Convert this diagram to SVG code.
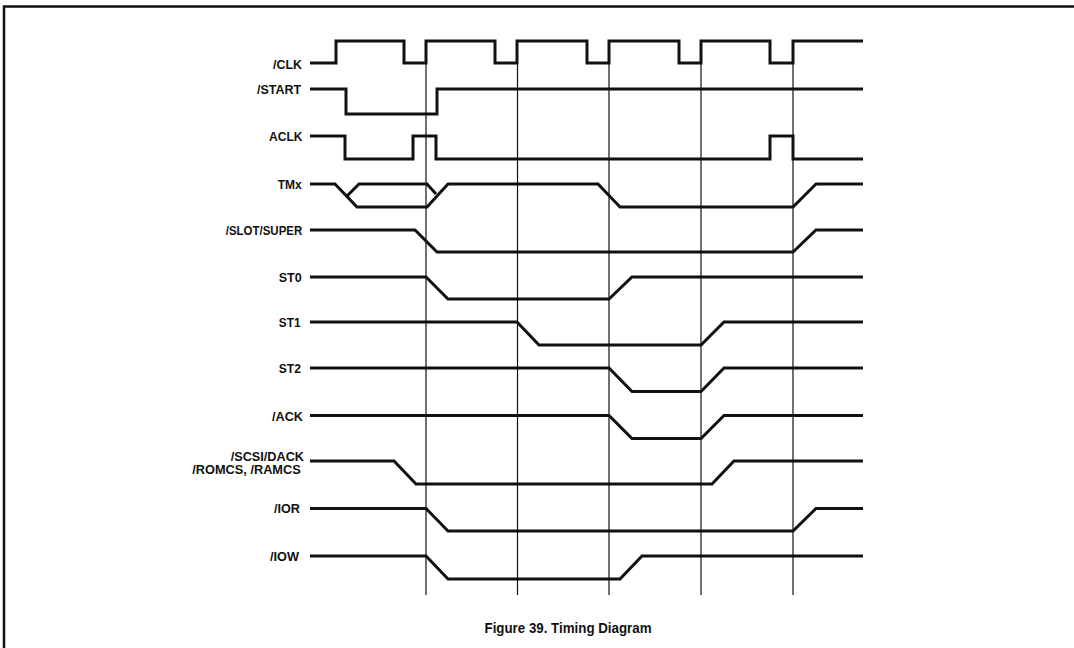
<svg xmlns="http://www.w3.org/2000/svg" width="1074" height="648" viewBox="0 0 1074 648">
<style>
.sig{fill:none;stroke:#111;stroke-width:3;stroke-linejoin:miter;stroke-linecap:butt}
.grid{fill:none;stroke:#111;stroke-width:1.2}
.lbl{font-family:"Liberation Sans",Arial,sans-serif;font-weight:bold;font-size:13.5px;fill:#111;text-anchor:end}
.lbl2{font-size:12px}
.cap{font-family:"Liberation Sans",Arial,sans-serif;font-weight:bold;font-size:14px;fill:#111;text-anchor:middle}
.frame{fill:none;stroke:#111;stroke-width:2.5}
</style>
<rect width="1074" height="648" fill="#fff"/>
<path class="frame" d="M4,648 V6.5 H1074"/>

<g id="connectors">
<line class="grid" x1="426" y1="63" x2="426" y2="595"/>
<line class="grid" x1="517.5" y1="63" x2="517.5" y2="595"/>
<line class="grid" x1="609" y1="63" x2="609" y2="595"/>
<line class="grid" x1="701" y1="63" x2="701" y2="595"/>
<line class="grid" x1="793" y1="63" x2="793" y2="595"/>
</g>

<g id="clk">
<text class="lbl" x="302" y="68.5" textLength="29" lengthAdjust="spacingAndGlyphs">/CLK</text>
<polyline class="sig" points="310,63 336,63 336,41 404,41 404,63 426,63 426,41 495,41 495,63 517,63 517,41 587,41 587,63 609,63 609,41 679,41 679,63 701,63 701,41 770,41 770,63 793,63 793,41 863,41"/>
</g>

<g id="start">
<text class="lbl" x="301" y="94" textLength="44" lengthAdjust="spacingAndGlyphs">/START</text>
<polyline class="sig" points="310,89 346,89 346,114 437,114 437,89 863,89"/>
</g>

<g id="aclk">
<text class="lbl" x="302.5" y="141" textLength="33.5" lengthAdjust="spacingAndGlyphs">ACLK</text>
<polyline class="sig" points="310,136 345,136 345,159 413,159 413,136 436,136 436,159 770,159 770,136 793,136 793,159 863,159"/>
</g>

<g id="tmx">
<text class="lbl" x="301.7" y="188.5" textLength="24" lengthAdjust="spacingAndGlyphs">TMx</text>
<polyline class="sig" points="310,184 335,184 357,207 427,207 448,184 598,184 620,207 793,207 816,184 863,184"/>
<polyline class="sig" points="347,196 359,184 427,184 436,194"/>
</g>

<g id="slot-super">
<text class="lbl" x="302.3" y="235" textLength="76.6" lengthAdjust="spacingAndGlyphs">/SLOT/SUPER</text>
<polyline class="sig" points="310,230 415,230 437,252 793,252 816,230 863,230"/>
</g>

<g id="st0">
<text class="lbl" x="301.7" y="281.5" textLength="23" lengthAdjust="spacingAndGlyphs">ST0</text>
<polyline class="sig" points="310,277 426,277 448,299 609,299 632,277 863,277"/>
</g>

<g id="st1">
<text class="lbl" x="300.5" y="326.5" textLength="21.7" lengthAdjust="spacingAndGlyphs">ST1</text>
<polyline class="sig" points="310,322 517,322 539,345 701,345 724,322 863,322"/>
</g>

<g id="st2">
<text class="lbl" x="301" y="373" textLength="22.3" lengthAdjust="spacingAndGlyphs">ST2</text>
<polyline class="sig" points="310,368 609,368 632,391.5 701,391.5 724,368 863,368"/>
</g>

<g id="ack">
<text class="lbl" x="303" y="420.5" textLength="31" lengthAdjust="spacingAndGlyphs">/ACK</text>
<polyline class="sig" points="310,415.5 609,415.5 632,438.5 701,438.5 724,415.5 863,415.5"/>
</g>

<g id="scsi-dack">
<text class="lbl lbl2" x="304" y="461" textLength="73.3" lengthAdjust="spacingAndGlyphs">/SCSI/DACK</text>
<text class="lbl lbl2" x="300.7" y="474" textLength="108.4" lengthAdjust="spacingAndGlyphs">/ROMCS, /RAMCS</text>
<polyline class="sig" points="310,461 394,461 416,484 712,484 734,461 863,461"/>
</g>

<g id="ior">
<text class="lbl" x="300" y="513" textLength="26" lengthAdjust="spacingAndGlyphs">/IOR</text>
<polyline class="sig" points="310,508.5 426,508.5 448,531 793,531 816,508.5 863,508.5"/>
</g>

<g id="iow">
<text class="lbl" x="299" y="560.5" textLength="29" lengthAdjust="spacingAndGlyphs">/IOW</text>
<polyline class="sig" points="310,556 426,556 448,579 620,579 642,556 863,556"/>
</g>

<text class="cap" x="568" y="633" textLength="167" lengthAdjust="spacingAndGlyphs">Figure 39.  Timing Diagram</text>
</svg>
